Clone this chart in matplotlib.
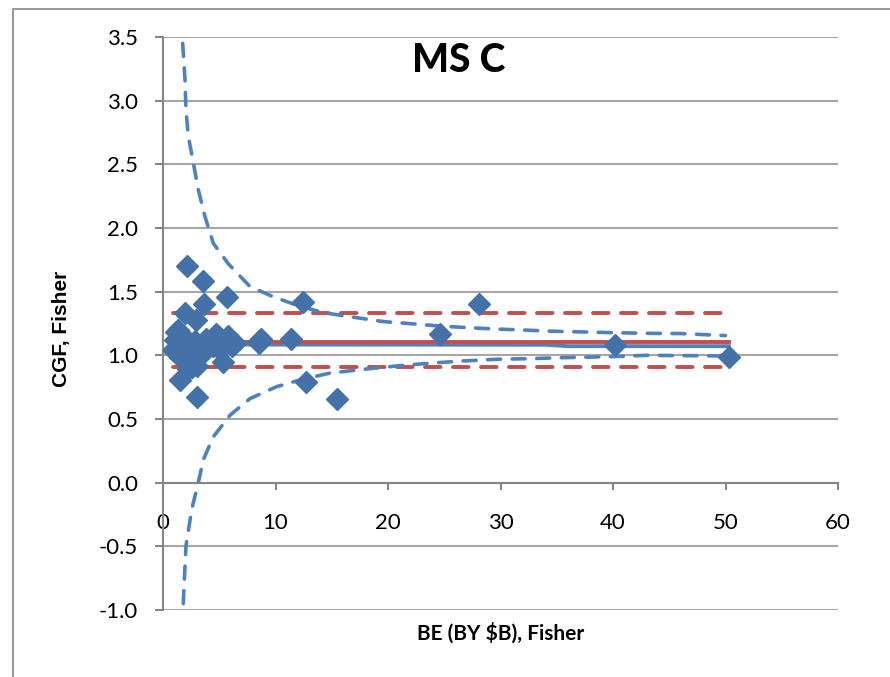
import numpy as np
import matplotlib
matplotlib.use("Agg")
import matplotlib.pyplot as plt
from matplotlib.patches import Rectangle

# scatter points: BE (BY $B) vs CGF
be = [2.16, 3.58, 5.66, 3.67, 1.93, 2.93, 1.36, 1.19, 1.07, 0.89, 1.80, 2.07,
      2.10, 2.70, 2.55, 3.00, 1.55, 3.05, 2.81, 3.85, 4.33, 4.74, 4.90, 5.78,
      6.10, 6.37, 5.36, 5.07, 4.44, 3.56, 1.48, 2.22, 8.53, 8.70, 8.50, 11.35,
      12.47, 12.68, 15.50, 24.60, 28.10, 40.20, 50.30]
cgf = [1.70, 1.58, 1.46, 1.40, 1.33, 1.28, 1.20, 1.18, 1.12, 1.04, 1.15, 1.07,
       1.04, 0.99, 0.91, 0.92, 0.81, 0.67, 1.11, 1.13, 1.12, 1.17, 1.15, 1.15,
       1.07, 1.10, 0.95, 1.04, 1.07, 1.02, 0.99, 0.89, 1.115, 1.13, 1.10, 1.126,
       1.42, 0.79, 0.655, 1.17, 1.40, 1.08, 0.99]

# mean and +/- band (red)
band_x = [0.9, 50.3]
mean_cgf = 1.107
band_hi = 1.33
band_lo = 0.905

# fitted line (blue solid)
fit_x = [0.9, 34.0, 36.0, 50.3]
fit_y = [1.085, 1.083, 1.072, 1.072]

# prediction interval (blue dashed)
up_x = [1.75, 1.96, 2.04, 2.25, 2.70, 3.14, 3.73, 4.47, 5.80, 7.73, 9.80,
        12.0, 14.25, 16.9, 19.6, 22.25, 24.6, 27.0, 29.4, 31.7, 34.4, 37.1,
        40.0, 43.0, 46.0, 50.0]
up_y = [3.45, 3.16, 2.93, 2.72, 2.51, 2.30, 2.09, 1.88, 1.72, 1.54, 1.46,
        1.39, 1.335, 1.30, 1.265, 1.247, 1.23, 1.218, 1.207, 1.20, 1.19, 1.184,
        1.178, 1.173, 1.171, 1.155]
lo_x = [1.80, 2.04, 2.55, 3.14, 3.58, 4.47, 5.96, 7.73, 10.1, 12.2, 14.8,
        17.8, 20.8, 23.7, 26.7, 29.7, 32.6, 35.6, 40.0, 43.0, 49.8]
lo_y = [-0.95, -0.50, -0.21, 0.0, 0.18, 0.36, 0.53, 0.66, 0.754, 0.807, 0.86,
        0.89, 0.917, 0.938, 0.956, 0.969, 0.974, 0.982, 0.99, 1.00, 0.995]

red = '#C0504D'
blue = '#4F81BD'
mk = '#4472A8'
grid_c = '#A6A6A6'
axis_c = '#868686'

fig = plt.figure(figsize=(8.9, 6.77), dpi=100)
W, H = 890, 677
ax = fig.add_axes([163 / W, (H - 610) / H, (838 - 163) / W, (610 - 37) / H])

for yv in np.arange(-1.0, 3.51, 0.5):
    ax.axhline(yv, color=grid_c, lw=1.5, zorder=0)

ax.plot(band_x, [band_hi, band_hi], color=red, lw=2.8, ls=(0, (4.0, 3.2)),
        dash_capstyle='round', zorder=2)
ax.plot(band_x, [band_lo, band_lo], color=red, lw=2.8, ls=(0, (4.0, 3.2)),
        dash_capstyle='round', zorder=2)
ax.plot(fit_x, fit_y, color=blue, lw=2.8, zorder=2)
ax.plot(band_x, [mean_cgf, mean_cgf], color=red, lw=2.8, zorder=2)
ax.plot(up_x, up_y, color=blue, lw=2.6, ls=(0, (3.6, 3.2)),
        dash_capstyle='round', zorder=2)
ax.plot(lo_x, lo_y, color=blue, lw=2.6, ls=(0, (3.6, 3.2)),
        dash_capstyle='round', zorder=2)
ax.plot(be, cgf, ls='none', marker='D', ms=11, color=mk, mec=mk, zorder=3)

ax.set_xlim(0, 60)
ax.set_ylim(-1.0, 3.5)
ax.set_xticks(np.arange(0, 61, 10))
ax.set_yticks(np.arange(-1.0, 3.51, 0.5))
ax.set_yticklabels([f'{v:.1f}' for v in np.arange(-1.0, 3.51, 0.5)])

ax.spines['top'].set_visible(False)
ax.spines['right'].set_visible(False)
ax.spines['bottom'].set_position(('data', 0))
for s in ('left', 'bottom'):
    ax.spines[s].set_color(axis_c)
    ax.spines[s].set_linewidth(1.5)
ax.tick_params(axis='y', direction='out', length=6, width=1.5, color=axis_c,
               pad=12, labelsize=16)
ax.tick_params(axis='x', direction='out', length=5, width=1.5, color=axis_c,
               pad=17, labelsize=16)
for lab in ax.get_xticklabels() + ax.get_yticklabels():
    lab.set_fontfamily('Lato')

fig.text(62 / W, 1 - 329 / H, 'CGF, Fisher', rotation=90, ha='center', va='center',
         fontsize=15, fontweight='bold', family='Liberation Sans')
fig.text(501 / W, 1 - 633 / H, r'BE (BY \$B), Fisher', ha='center', va='center',
         fontsize=15, fontweight='bold', family='Lato')
fig.text(459 / W, 1 - 61 / H, 'MS C', ha='center', va='center',
         fontsize=28, fontweight='black', family='Lato')

fig.add_artist(Rectangle((13 / W, -0.1), 1.2, 1.1 - 9 / H, transform=fig.transFigure,
                         fill=False, ec=axis_c, lw=1.2))

fig.savefig('out.png', dpi=100)
